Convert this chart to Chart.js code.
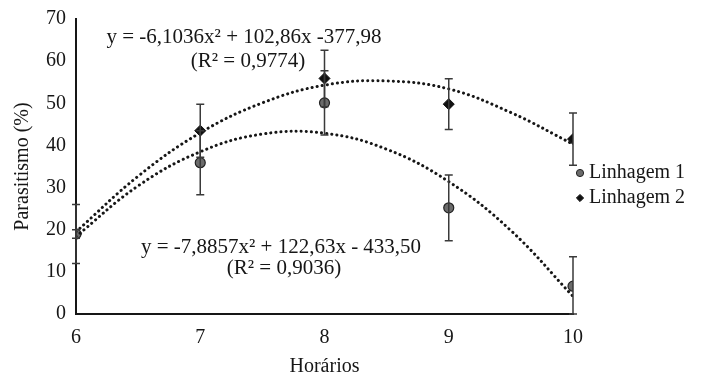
<!DOCTYPE html>
<html>
<head>
<meta charset="utf-8">
<script src="https://cdn.jsdelivr.net/npm/chart.js@4.4.0/dist/chart.umd.min.js"></script>
<style>
  html, body { margin: 0; padding: 0; background: #ffffff; }
  #wrap { width: 702px; height: 379px; }
</style>
</head>
<body>
<div id="wrap"><canvas id="chart"></canvas></div>
<script>
// Observed means (hours of day vs. parasitism %)
const horarios = [6, 7, 8, 9, 10];
const linhagem1 = [19.0, 35.9, 50.1, 25.2, 6.6];
const linhagem2 = [19.0, 43.5, 55.9, 49.8, 41.5];
const erro1 = [7.0, 7.6, 7.6, 7.8, 7.0];
const erro2 = [1.0, 6.3, 6.7, 6.0, 6.2];

// Dotted trend curves at half-hour steps
const trendX = [6, 6.5, 7, 7.5, 8, 8.5, 9, 9.5, 10];
const trend1 = [18.4, 30.4, 38.5, 42.7, 42.9, 39.1, 31.4, 19.8, 4.2];
const trend2 = [19.5, 32.7, 43.0, 50.1, 54.3, 55.3, 53.4, 47.8, 40.3];

const yTicks = [0, 10, 20, 30, 40, 50, 60, 70];

const eq2 = ['y = -6,1036x\u00B2 + 102,86x -377,98', '(R\u00B2 = 0,9774)'];
const eq1 = ['y = -7,8857x\u00B2 + 122,63x - 433,50', '(R\u00B2 = 0,9036)'];

const INK = '#161616';
const FONT = '"Liberation Serif", "Times New Roman", serif';

function toXY(xs, ys) {
    return xs.map((x, i) => ({ x: x, y: ys[i] }));
}

// Draws the vertical error bars using the chart scales
const errorBars = {
    id: 'errorBars',
    afterDatasetsDraw(chart) {
        const { ctx, scales: { x, y } } = chart;
        const sets = [[linhagem1, erro1], [linhagem2, erro2]];
        ctx.save();
        ctx.strokeStyle = '#3a3a3a';
        ctx.lineWidth = 1.5;
        sets.forEach(([vals, errs]) => {
            vals.forEach((v, i) => {
                const px = x.getPixelForValue(horarios[i]);
                const top = y.getPixelForValue(v + errs[i]);
                const bot = y.getPixelForValue(Math.max(0, v - errs[i]));
                ctx.beginPath();
                ctx.moveTo(px, top);
                ctx.lineTo(px, bot);
                ctx.moveTo(px - 4, top);
                ctx.lineTo(px + 4, top);
                ctx.moveTo(px - 4, bot);
                ctx.lineTo(px + 4, bot);
                ctx.stroke();
            });
        });
        ctx.restore();
    }
};

// Regression equations written inside the plot
const equations = {
    id: 'equations',
    afterDraw(chart) {
        const { ctx, scales: { x, y } } = chart;
        ctx.save();
        ctx.fillStyle = INK;
        ctx.font = '21px ' + FONT;
        ctx.textAlign = 'center';
        ctx.textBaseline = 'middle';
        ctx.fillText(eq2[0], x.getPixelForValue(7.352), y.getPixelForValue(65.7));
        ctx.fillText(eq2[1], x.getPixelForValue(7.384), y.getPixelForValue(60.0));
        ctx.fillText(eq1[0], x.getPixelForValue(7.65), y.getPixelForValue(15.9));
        ctx.fillText(eq1[1], x.getPixelForValue(7.674), y.getPixelForValue(10.7));
        ctx.restore();
    }
};

// Legend to the right of the plot, marker close to the text like the original
const sideLegend = {
    id: 'sideLegend',
    afterDraw(chart) {
        const { ctx, chartArea } = chart;
        const items = chart.data.datasets.filter(d => d.label.startsWith('Linhagem'));
        const x0 = chartArea.right + 7;
        const y0 = chartArea.top + 154;
        ctx.save();
        ctx.font = '20px ' + FONT;
        ctx.textBaseline = 'middle';
        ctx.textAlign = 'left';
        items.forEach((d, i) => {
            const yy = y0 + i * 25;
            ctx.fillStyle = d.backgroundColor;
            ctx.strokeStyle = d.borderColor;
            Chart.helpers.drawPoint(ctx, {
                pointStyle: d.pointStyle,
                radius: 3.6,
                borderWidth: 1
            }, x0, yy);
            ctx.fillStyle = INK;
            ctx.fillText(d.label, x0 + 9, yy);
        });
        ctx.restore();
    }
};

const ctx = document.getElementById('chart');

new Chart(ctx, {
    type: 'scatter',
    data: {
        datasets: [
            {
                label: 'trend2',
                data: toXY(trendX, trend2),
                showLine: true,
                borderColor: INK,
                borderWidth: 3,
                borderDash: [0.1, 5],
                borderCapStyle: 'round',
                tension: 0.4,
                pointRadius: 0,
                fill: false
            },
            {
                label: 'trend1',
                data: toXY(trendX, trend1),
                showLine: true,
                borderColor: INK,
                borderWidth: 3,
                borderDash: [0.1, 5],
                borderCapStyle: 'round',
                tension: 0.4,
                pointRadius: 0,
                fill: false
            },
            {
                label: 'Linhagem 1',
                data: toXY(horarios, linhagem1),
                pointStyle: 'circle',
                pointRadius: 5,
                backgroundColor: '#6b6b6b',
                borderColor: '#222222',
                borderWidth: 1.2
            },
            {
                label: 'Linhagem 2',
                data: toXY(horarios, linhagem2),
                pointStyle: 'rectRot',
                pointRadius: 5.5,
                backgroundColor: '#111111',
                borderColor: '#111111',
                borderWidth: 1
            }
        ]
    },
    options: {
        responsive: true,
        maintainAspectRatio: false,
        animation: false,
        layout: { padding: { top: 19, left: 11, right: 129, bottom: 0 } },
        scales: {
            x: {
                type: 'linear',
                min: 6,
                max: 10,
                afterFit(scale) { scale.height = 65; },
                grid: { display: false, drawTicks: true, tickLength: 6, tickColor: INK },
                border: { color: INK, width: 2 },
                ticks: {
                    stepSize: 1,
                    color: INK,
                    font: { family: FONT, size: 20 },
                    padding: 6
                },
                title: {
                    display: true,
                    text: 'Horários',
                    color: INK,
                    font: { family: FONT, size: 20 },
                    padding: { top: 4, bottom: 0 }
                }
            },
            y: {
                min: 0,
                max: 70,
                afterFit(scale) { scale.width = 65; },
                afterBuildTicks(scale) {
                    scale.ticks = yTicks.map(v => ({ value: v }));
                },
                grid: { display: false, drawTicks: true, tickLength: 6, tickColor: INK },
                border: { color: INK, width: 2 },
                ticks: {
                    color: INK,
                    font: { family: FONT, size: 20 },
                    padding: 4
                },
                title: {
                    display: true,
                    text: 'Parasitismo (%)',
                    color: INK,
                    font: { family: FONT, size: 20 },
                    padding: { top: 0, bottom: 6 }
                }
            }
        },
        plugins: {
            legend: { display: false },
            tooltip: { enabled: false }
        }
    },
    plugins: [errorBars, equations, sideLegend]
});
</script>
</body>
</html>
